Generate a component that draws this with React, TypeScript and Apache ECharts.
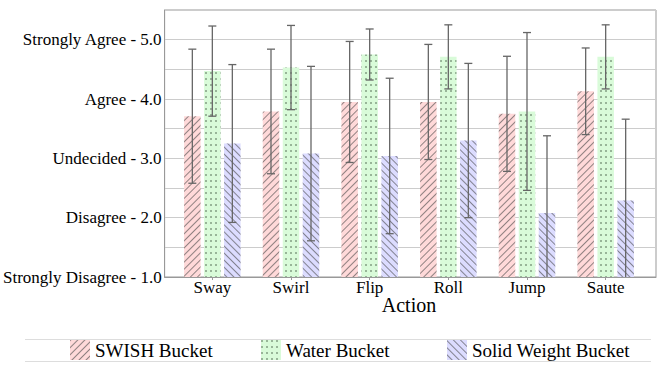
import React, { useEffect, useRef } from "react";
import * as echarts from "echarts";

const categories = ["Sway", "Swirl", "Flip", "Roll", "Jump", "Saute"];
const seriesNames = ["SWISH Bucket", "Water Bucket", "Solid Weight Bucket"];
const swishMean = [3.71, 3.79, 3.95, 3.95, 3.75, 4.13];
const swishErr = [1.13, 1.05, 1.02, 0.97, 0.97, 0.73];
const waterMean = [4.47, 4.53, 4.75, 4.71, 3.79, 4.71];
const waterErr = [0.76, 0.71, 0.43, 0.54, 1.33, 0.54];
const solidMean = [3.25, 3.08, 3.04, 3.30, 2.08, 2.29];
const solidErr = [1.33, 1.47, 1.31, 1.30, 1.30, 1.37];
const yTickLabels: Record<string, string> = {
  "1": "Strongly Disagree - 1.0",
  "2": "Disagree - 2.0",
  "3": "Undecided - 3.0",
  "4": "Agree - 4.0",
  "5": "Strongly Agree - 5.0",
};
const axisTitle = "Action";

const FONT = "'Liberation Serif', 'Times New Roman', serif";
const Y_MIN = 1;
const Y_MAX = 5.5;
const BAR_W = 16.5;
const BAR_GAP = 3.5;

const fills = ["#ffd9d9", "#d9fbd9", "#dcdcff"];
const decals: any[] = [
  {
    symbol: "rect",
    symbolSize: 1,
    color: "rgba(70,70,70,0.6)",
    dashArrayX: [1, 0],
    dashArrayY: [1, 4],
    rotation: -Math.PI / 4,
  },
  {
    symbol: "rect",
    symbolSize: 0.75,
    color: "rgba(50,70,50,0.7)",
    dashArrayX: [2, 3],
    dashArrayY: [2, 4],
    rotation: 0,
  },
  {
    symbol: "rect",
    symbolSize: 1,
    color: "rgba(70,70,70,0.6)",
    dashArrayX: [1, 0],
    dashArrayY: [1, 4],
    rotation: Math.PI / 4,
  },
];

export default function App() {
  const ref = useRef<HTMLDivElement>(null);
  useEffect(() => {
    document.body.style.margin = "0";
    if (!ref.current) return;
    const chart = echarts.init(ref.current, undefined, { renderer: "svg" });
    const means = [swishMean, waterMean, solidMean];
    const errs = [swishErr, waterErr, solidErr];

    const barSeries = means.map((m, s) => ({
      type: "bar",
      name: seriesNames[s],
      xAxisIndex: 1,
      yAxisIndex: 1,
      data: m,
      barWidth: BAR_W,
      barGap: ((BAR_GAP / BAR_W) * 100).toFixed(1) + "%",
      itemStyle: { color: fills[s], decal: decals[s] },
      z: 2,
    }));

    const errSeries = means.map((m, s) => ({
      type: "custom",
      name: seriesNames[s] + " err",
      xAxisIndex: 1,
      yAxisIndex: 1,
      z: 5,
      silent: true,
      data: m.map((v, i) => [i, v, errs[s][i]]),
      encode: { x: 0, y: 1 },
      renderItem: (params: any, api: any) => {
        const idx = api.value(0);
        const mean = api.value(1);
        const e = api.value(2);
        const offset = (s - 1) * (BAR_W + BAR_GAP);
        const hiV = Math.min(mean + e, Y_MAX);
        const loRaw = mean - e;
        const loV = Math.max(loRaw, Y_MIN);
        const pHi = api.coord([idx, hiV]);
        const pLo = api.coord([idx, loV]);
        const x = pHi[0] + offset;
        const cap = 4;
        const st = { stroke: "#666", lineWidth: 1.3 };
        const children: any[] = [
          { type: "line", shape: { x1: x, y1: pHi[1], x2: x, y2: pLo[1] }, style: st },
          { type: "line", shape: { x1: x - cap, y1: pHi[1], x2: x + cap, y2: pHi[1] }, style: st },
        ];
        if (loRaw >= Y_MIN) {
          children.push({ type: "line", shape: { x1: x - cap, y1: pLo[1], x2: x + cap, y2: pLo[1] }, style: st });
        }
        return { type: "group", children };
      },
    }));

    const legendLefts = [70, 261, 447];
    const legends = seriesNames.map((n, i) => ({
      data: [{ name: n, icon: "rect" }],
      left: legendLefts[i],
      top: 340,
      itemWidth: 20,
      itemHeight: 20,
      itemGap: 0,
      padding: 0,
      textStyle: { fontFamily: FONT, fontSize: 19, color: "#000" },
      selectedMode: false,
    }));

    chart.setOption({
      animation: false,
      backgroundColor: "#fff",
      textStyle: { fontFamily: FONT },
      grid: [
        { left: 162, right: 3, top: 10, bottom: 94, show: true, borderColor: "#999", borderWidth: 1, containLabel: false },
        { left: 173, right: 14, top: 10, bottom: 94, containLabel: false },
      ],
      xAxis: [
        {
          type: "value",
          gridIndex: 0,
          min: 0,
          max: 1,
          axisLine: { show: true, lineStyle: { color: "#999" } },
          axisTick: { show: false },
          axisLabel: { show: false },
          splitLine: { show: false },
        },
        {
          type: "category",
          gridIndex: 1,
          data: categories,
          axisLine: { show: false },
          axisTick: { show: true, alignWithLabel: true, length: 3, lineStyle: { color: "#999" } },
          axisLabel: { fontFamily: FONT, fontSize: 17, color: "#000", margin: 2 },
          name: axisTitle,
          nameLocation: "middle",
          nameGap: 18,
          nameMoveOverlap: false,
          nameTextStyle: { fontFamily: FONT, fontSize: 20, color: "#000" },
        },
      ],
      yAxis: [
        {
          type: "value",
          gridIndex: 0,
          min: Y_MIN,
          max: Y_MAX,
          interval: 0.5,
          axisLine: { show: true, lineStyle: { color: "#999" } },
          axisTick: { show: false },
          splitLine: { show: true, lineStyle: { color: "#ccc", width: 1 } },
          axisLabel: {
            fontFamily: FONT,
            fontSize: 17,
            color: "#000",
            margin: 3,
            formatter: (v: number) => yTickLabels[String(v)] ?? "",
          },
        },
        {
          type: "value",
          gridIndex: 1,
          min: Y_MIN,
          max: Y_MAX,
          interval: 0.5,
          show: false,
          splitLine: { show: false },
        },
      ],
      legend: legends,
      graphic: [
        { type: "line", shape: { x1: 25, y1: 339.5, x2: 651, y2: 339.5 }, style: { stroke: "#ddd", lineWidth: 1 } },
        { type: "line", shape: { x1: 25, y1: 361.5, x2: 651, y2: 361.5 }, style: { stroke: "#ddd", lineWidth: 1 } },
      ],
      series: [...barSeries, ...errSeries],
    });
    return () => chart.dispose();
  }, []);
  return <div ref={ref} style={{ width: 659, height: 371 }} />;
}
